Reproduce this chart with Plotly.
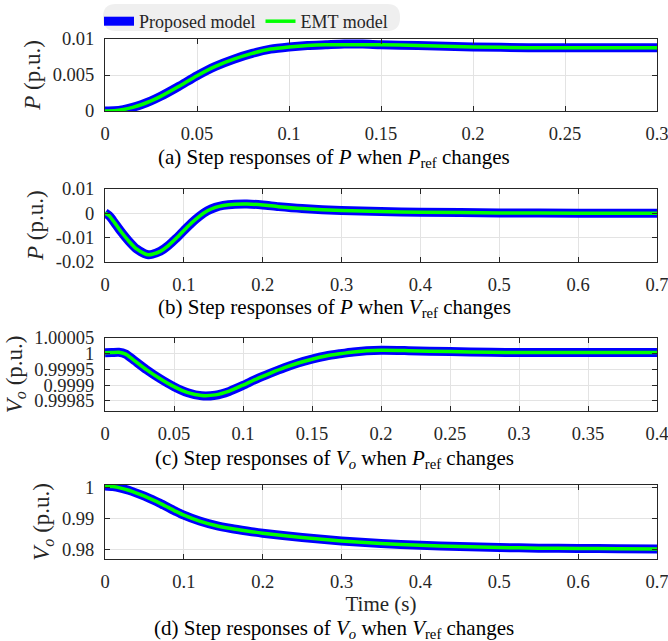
import plotly.graph_objects as go

# ---------------- data ----------------
# (a) P when Pref changes
t_a = [0, 0.005, 0.01, 0.015, 0.02, 0.025, 0.03, 0.04, 0.05, 0.06, 0.07, 0.08, 0.09,
       0.1, 0.11, 0.12, 0.13, 0.14, 0.15, 0.17, 0.2, 0.23, 0.26, 0.3]
p_a_prop = [0, 0.00003, 0.0002, 0.0005, 0.0009, 0.0014, 0.0020, 0.0034, 0.0049, 0.0062,
            0.0072, 0.0080, 0.0086, 0.0089, 0.0091, 0.0092, 0.0093, 0.0093, 0.0092,
            0.0091, 0.0089, 0.0088, 0.0088, 0.0088]
p_a_emt = [0, 0.00003, 0.0002, 0.0005, 0.0009, 0.0014, 0.0020, 0.0034, 0.0049, 0.0062,
           0.0072, 0.0080, 0.0086, 0.0089, 0.0091, 0.0092, 0.0092, 0.0092, 0.0092,
           0.0091, 0.0089, 0.0088, 0.0088, 0.0088]

# (b) P when Vref changes
t_b = [0, 0.005, 0.01, 0.02, 0.03, 0.04, 0.05, 0.055, 0.06, 0.07, 0.08, 0.09, 0.1, 0.11,
       0.12, 0.13, 0.14, 0.15, 0.165, 0.18, 0.2, 0.22, 0.25, 0.3, 0.35, 0.4, 0.5, 0.6, 0.7]
p_b_prop = [0.0002, -0.001, -0.003, -0.0075, -0.0115, -0.0148, -0.0167, -0.0172, -0.0170,
            -0.0158, -0.0135, -0.0105, -0.0072, -0.0040, -0.0012, 0.0010, 0.0024, 0.0032,
            0.0037, 0.0038, 0.0034, 0.0027, 0.0019, 0.0011, 0.0007, 0.0004, 0.0001, 0.0, 0.0]
p_b_emt = [0.0001, -0.001, -0.003, -0.0075, -0.0115, -0.0148, -0.0167, -0.0172, -0.0170,
           -0.0158, -0.0135, -0.0105, -0.0072, -0.0040, -0.0012, 0.0010, 0.0024, 0.0032,
           0.0037, 0.0038, 0.0034, 0.0027, 0.0019, 0.0011, 0.0007, 0.0004, 0.0001, 0.0, 0.0]

# (c) Vo when Pref changes
t_c = [0, 0.005, 0.01, 0.015, 0.02, 0.03, 0.04, 0.05, 0.06, 0.07, 0.08, 0.09, 0.1, 0.11,
       0.12, 0.13, 0.14, 0.15, 0.16, 0.17, 0.18, 0.2, 0.22, 0.25, 0.28, 0.3, 0.35, 0.4]
v_c_prop = [1.000002, 1.000003, 1.000004, 0.999998, 0.999982, 0.999949, 0.999920, 0.999895,
            0.999876, 0.999866, 0.999868, 0.99988, 0.999899, 0.99992, 0.999938, 0.999955,
            0.99997, 0.999982, 0.999992, 0.999999, 1.000005, 1.00001, 1.000009, 1.000006,
            1.000004, 1.000003, 1.000003, 1.000003]
v_c_emt = [1.000002, 1.000003, 1.000004, 0.999998, 0.999982, 0.999949, 0.999920, 0.999895,
           0.999876, 0.999867, 0.999869, 0.999881, 0.9999, 0.99992, 0.999938, 0.999955,
           0.99997, 0.999982, 0.999992, 0.999999, 1.000005, 1.00001, 1.000009, 1.000006,
           1.000004, 1.000003, 1.000003, 1.000003]

# (d) Vo when Vref changes
t_d = [0, 0.01, 0.02, 0.03, 0.04, 0.05, 0.06, 0.07, 0.08, 0.09, 0.1, 0.12, 0.14, 0.16,
       0.18, 0.2, 0.25, 0.3, 0.35, 0.4, 0.45, 0.5, 0.55, 0.6, 0.65, 0.7]
v_d_prop = [1.0004, 1.0002, 0.9997, 0.9990, 0.9981, 0.9971, 0.9960, 0.9948, 0.9935, 0.9922,
            0.9910, 0.9891, 0.9877, 0.9867, 0.9859, 0.9852, 0.9838, 0.9827, 0.9819, 0.9813,
            0.9809, 0.9806, 0.9804, 0.9803, 0.9802, 0.9801]
v_d_emt = [1.0004, 1.0002, 0.9997, 0.9990, 0.9981, 0.9971, 0.9960, 0.9948, 0.9935, 0.9922,
           0.9910, 0.9891, 0.9877, 0.9867, 0.9859, 0.9852, 0.9838, 0.9827, 0.9819, 0.9813,
           0.9809, 0.9806, 0.9804, 0.9803, 0.9802, 0.9801]

# tick values / labels
xt_a = [0, 0.05, 0.1, 0.15, 0.2, 0.25, 0.3]
xl_a = ["0", "0.05", "0.1", "0.15", "0.2", "0.25", "0.3"]
xt_b = [0, 0.1, 0.2, 0.3, 0.4, 0.5, 0.6, 0.7]
xl_b = ["0", "0.1", "0.2", "0.3", "0.4", "0.5", "0.6", "0.7"]
xt_c = [0, 0.05, 0.1, 0.15, 0.2, 0.25, 0.3, 0.35, 0.4]
xl_c = ["0", "0.05", "0.1", "0.15", "0.2", "0.25", "0.3", "0.35", "0.4"]
yt_a = [0, 0.005, 0.01]
yl_a = ["0", "0.005", "0.01"]
yt_b = [-0.02, -0.01, 0, 0.01]
yl_b = ["-0.02", "-0.01", "0", "0.01"]
yt_c = [0.99985, 0.9999, 0.99995, 1.0, 1.00005]
yl_c = ["0.99985", "0.9999", "0.99995", "1", "1.00005"]
yt_d = [0.98, 0.99, 1.0]
yl_d = ["0.98", "0.99", "1"]

captions = [
    "(a) Step responses of <i>P</i> when <i>P</i><sub>ref</sub> changes",
    "(b) Step responses of <i>P</i> when <i>V</i><sub>ref</sub> changes",
    "(c) Step responses of <i>V<sub>o</sub></i> when <i>P</i><sub>ref</sub> changes",
    "(d) Step responses of <i>V<sub>o</sub></i> when <i>V</i><sub>ref</sub> changes",
]
ytitles = ["<i>P</i> (p.u.)", "<i>P</i> (p.u.)", "<i>V<sub>o</sub></i> (p.u.)", "<i>V<sub>o</sub></i> (p.u.)"]
names = ["Proposed model", "EMT model"]

# ---------------- figure ----------------
W, H = 668, 641
ML, MR = 105, 11
PW = W - ML - MR
FONT = "Liberation Serif"
BLUE = "#0000ff"
GREEN = "#00ff00"
AX = "#262626"
GRID = "#e3e3e3"


def px(xp):
    return (xp - ML) / PW


def py(yp):
    return (H - yp) / H


panels = [
    (t_a, p_a_prop, p_a_emt, [0, 0.3], [0, 0.01], xt_a, xl_a, yt_a, yl_a, (39, 111), 158),
    (t_b, p_b_prop, p_b_emt, [0, 0.7], [-0.02, 0.01], xt_b, xl_b, yt_b, yl_b, (189, 261.5), 308),
    (t_c, v_c_prop, v_c_emt, [0, 0.4], [0.999818, 1.00005], xt_c, xl_c, yt_c, yl_c, (337.7, 411), 459),
    (t_d, v_d_prop, v_d_emt, [0, 0.7], [0.977, 1.0007], xt_b, xl_b, yt_d, yl_d, (485, 558.7), 629),
]

fig = go.Figure()
annotations = []
for i, (t, yp, ye, xr, yr, xtv, xtl, ytv, ytl, (top, bot), capy) in enumerate(panels):
    n = "" if i == 0 else str(i + 1)
    fig.add_trace(go.Scatter(x=t, y=yp, mode="lines", name=names[0],
                             line=dict(color=BLUE, width=9, shape="spline", smoothing=0.6),
                             xaxis="x" + n, yaxis="y" + n, showlegend=(i == 0)))
    fig.add_trace(go.Scatter(x=t, y=ye, mode="lines", name=names[1],
                             line=dict(color=GREEN, width=3.5, shape="spline", smoothing=0.6),
                             xaxis="x" + n, yaxis="y" + n, showlegend=(i == 0)))
    common = dict(showline=True, linecolor=AX, linewidth=1, mirror="ticks",
                  ticks="inside", ticklen=5, tickcolor=AX, showgrid=True,
                  gridcolor=GRID, gridwidth=1, zeroline=False, automargin=False,
                  tickfont=dict(family=FONT, size=18.5, color=AX))
    xa = dict(common, domain=[0, 1], range=[xr[0] - 1e-7, xr[1] + 1e-7], anchor="y" + n,
              tickmode="array", tickvals=xtv, ticktext=xtl, ticklabelstandoff=6,
              ticklabeloverflow="allow")
    ya = dict(common, domain=[py(bot), py(top)], range=[yr[0] - 1e-10, yr[1] + 1e-10],
              anchor="x" + n, tickmode="array", tickvals=ytv, ticktext=ytl,
              ticklabelstandoff=6, ticklabeloverflow="allow",
              title=dict(text=ytitles[i], font=dict(family=FONT, size=23, color=AX), standoff=5))
    if i == 3:
        xa["title"] = dict(text="Time (s)", font=dict(family=FONT, size=21, color=AX), standoff=4)
    fig.layout["xaxis" + n] = xa
    fig.layout["yaxis" + n] = ya
    annotations.append(dict(text=captions[i], x=px(W / 2), y=py(capy), xref="paper", yref="paper",
                            xanchor="center", yanchor="middle", showarrow=False,
                            font=dict(family=FONT, size=21, color="black")))

# rounded legend background
x0, x1, y0, y1, r = 103, 400, 4, 31, 13
pts = [
    f"M {px(x0 + r)},{py(y0)}", f"L {px(x1 - r)},{py(y0)}",
    f"Q {px(x1)},{py(y0)} {px(x1)},{py(y0 + r)}", f"L {px(x1)},{py(y1 - r)}",
    f"Q {px(x1)},{py(y1)} {px(x1 - r)},{py(y1)}", f"L {px(x0 + r)},{py(y1)}",
    f"Q {px(x0)},{py(y1)} {px(x0)},{py(y1 - r)}", f"L {px(x0)},{py(y0 + r)}",
    f"Q {px(x0)},{py(y0)} {px(x0 + r)},{py(y0)}", "Z",
]
shapes = [dict(type="path", xref="paper", yref="paper", path=" ".join(pts),
               fillcolor="#efefef", line=dict(width=0), layer="below")]

fig.update_layout(
    width=W, height=H,
    margin=dict(l=ML, r=MR, t=0, b=0),
    paper_bgcolor="white", plot_bgcolor="white",
    font=dict(family=FONT, size=18, color=AX),
    showlegend=True,
    legend=dict(orientation="h", x=px(99), y=py(3), xanchor="left", yanchor="top",
                bgcolor="rgba(0,0,0,0)", font=dict(family=FONT, size=18, color=AX),
                itemwidth=30, tracegroupgap=0),
    annotations=annotations,
    shapes=shapes,
)

fig.write_html("out.html")
